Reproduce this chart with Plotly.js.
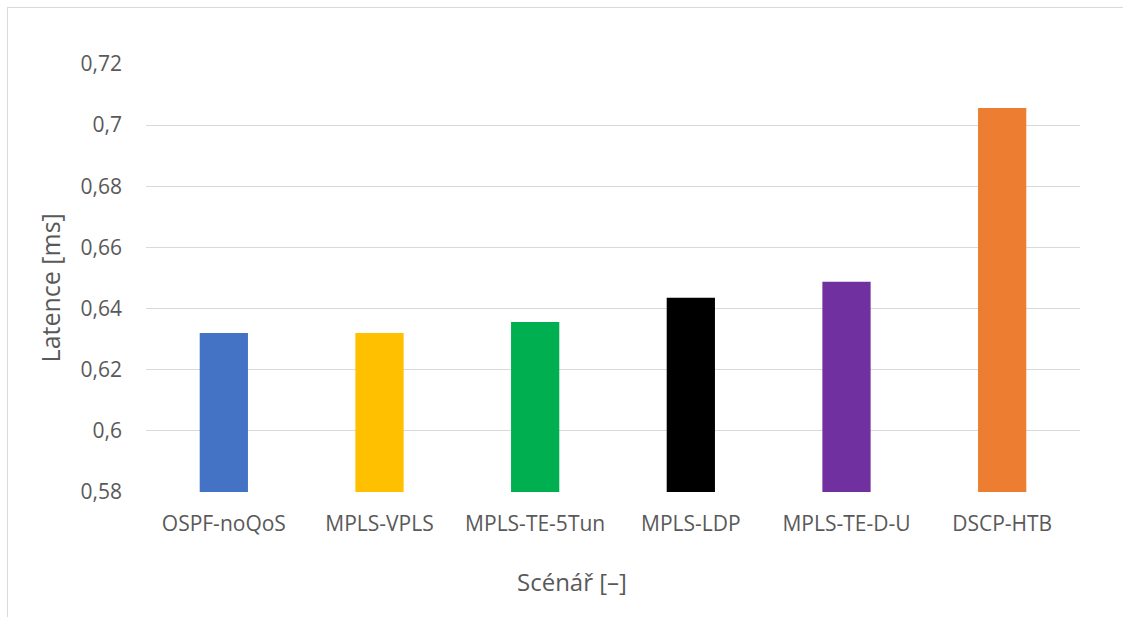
<!DOCTYPE html>
<html>
<head>
<meta charset="utf-8">
<script src="https://cdn.plot.ly/plotly-3.0.1.min.js"></script>
<style>
  html, body { margin: 0; padding: 0; background: #ffffff; }
  #chart { width: 1123px; height: 617px; }
  #frame { position: absolute; left: 7px; top: 7px; width: 1116px; height: 610px;
           border-top: 1px solid #d9d9d9; border-left: 1px solid #d9d9d9; pointer-events: none; }
</style>
</head>
<body>
<div id="chart"></div>
<div id="frame"></div>
<script>
const categories = ["OSPF-noQoS", "MPLS-VPLS", "MPLS-TE-5Tun", "MPLS-LDP", "MPLS-TE-D-U", "DSCP-HTB"];
const latency = [0.632, 0.632, 0.6356, 0.6435, 0.6488, 0.7056];
const barColors = ["#4472C4", "#FFC000", "#00B050", "#000000", "#7030A0", "#ED7D31"];
const yTickVals = [0.58, 0.6, 0.62, 0.64, 0.66, 0.68, 0.7, 0.72];
const yTickText = ["0,58", "0,6", "0,62", "0,64", "0,66", "0,68", "0,7", "0,72"];
const xTitle = "Scénář [–]";
const yTitle = "Latence [ms]";

const font = "'Open Sans', 'Noto Sans', sans-serif";

Plotly.newPlot("chart", [{
  type: "bar",
  x: categories,
  y: latency,
  base: 0,
  marker: { color: barColors, line: { width: 0 } },
  hoverinfo: "x+y"
}], {
  width: 1123,
  height: 617,
  margin: { l: 146, r: 43, t: 64, b: 125 },
  paper_bgcolor: "#ffffff",
  plot_bgcolor: "#ffffff",
  bargap: 0.69,
  showlegend: false,
  font: { family: font, color: "#595959", size: 21 },
  xaxis: {
    type: "category",
    showgrid: false,
    zeroline: false,
    showline: false,
    ticks: "",
    tickfont: { size: 21, color: "#595959" },
    ticklabelstandoff: 17
  },
  yaxis: {
    range: [0.58, 0.72],
    tickvals: yTickVals,
    ticktext: yTickText,
    showgrid: true,
    gridcolor: "#d9d9d9",
    gridwidth: 1,
    zeroline: false,
    showline: false,
    ticks: "",
    tickfont: { size: 21, color: "#595959" },
    ticklabelstandoff: 23
  },
  annotations: [
    {
      text: xTitle, showarrow: false, xref: "paper", yref: "paper",
      x: 0.456, y: -0.208, xanchor: "center", yanchor: "middle",
      font: { size: 24, color: "#595959", family: font }
    },
    {
      text: yTitle, showarrow: false, xref: "paper", yref: "paper", textangle: -90,
      x: -0.1028, y: 0.478, xanchor: "center", yanchor: "middle",
      font: { size: 25, color: "#595959", family: font }
    }
  ]
}, { displayModeBar: false, staticPlot: true });
</script>
</body>
</html>
